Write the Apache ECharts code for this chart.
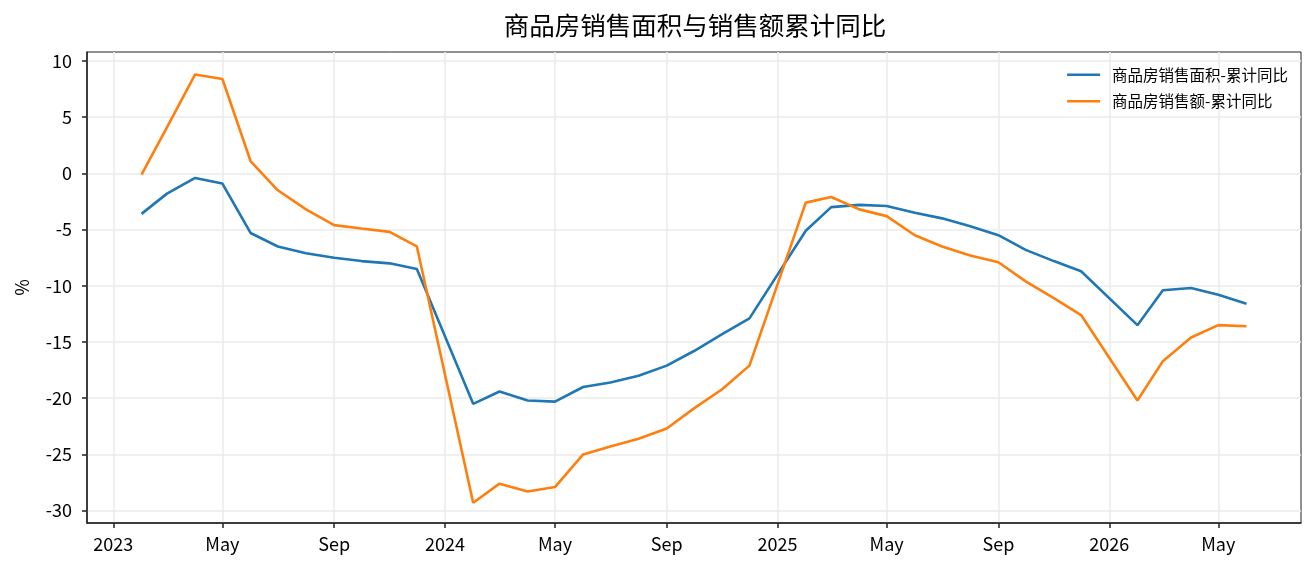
<!DOCTYPE html>
<html>
<head>
<meta charset="utf-8">
<script src="https://cdn.jsdelivr.net/npm/echarts@6/dist/echarts.min.js"></script>
<style>
  html, body { margin: 0; padding: 0; background: #fff; }
  #chart { width: 1316px; height: 573px; }
</style>
</head>
<body>
<div id="chart"></div>
<script>
// monthly points, plotted at the first of each month (no January figures)
const months = [
  '2023-02-01', '2023-03-01', '2023-04-01', '2023-05-01', '2023-06-01', '2023-07-01',
  '2023-08-01', '2023-09-01', '2023-10-01', '2023-11-01', '2023-12-01',
  '2024-02-01', '2024-03-01', '2024-04-01', '2024-05-01', '2024-06-01', '2024-07-01',
  '2024-08-01', '2024-09-01', '2024-10-01', '2024-11-01', '2024-12-01',
  '2025-02-01', '2025-03-01', '2025-04-01', '2025-05-01', '2025-06-01', '2025-07-01',
  '2025-08-01', '2025-09-01', '2025-10-01', '2025-11-01', '2025-12-01',
  '2026-02-01', '2026-03-01', '2026-04-01', '2026-05-01', '2026-06-01'
]
const areaYoY = [
  -3.6, -1.8, -0.4, -0.9, -5.3, -6.5, -7.1, -7.5, -7.8, -8.0, -8.5,
  -20.5, -19.4, -20.2, -20.3, -19.0, -18.6, -18.0, -17.1, -15.8, -14.3, -12.9,
  -5.1, -3.0, -2.8, -2.9, -3.5, -4.0, -4.7, -5.5, -6.8, -7.8, -8.7,
  -13.5, -10.4, -10.2, -10.8, -11.6
]
const amountYoY = [
  -0.1, 4.1, 8.8, 8.4, 1.1, -1.5, -3.2, -4.6, -4.9, -5.2, -6.5,
  -29.3, -27.6, -28.3, -27.9, -25.0, -24.3, -23.6, -22.7, -20.9, -19.2, -17.1,
  -2.6, -2.1, -3.2, -3.8, -5.5, -6.5, -7.3, -7.9, -9.6, -11.1, -12.6,
  -20.2, -16.7, -14.6, -13.5, -13.6
]
const xTicks = [
  '2023-01-01', '2023-05-01', '2023-09-01', '2024-01-01', '2024-05-01', '2024-09-01',
  '2025-01-01', '2025-05-01', '2025-09-01', '2026-01-01', '2026-05-01'
]
const yTicks = [-30, -25, -20, -15, -10, -5, 0, 5, 10]

const FONT = '"Noto Sans CJK SC", "Noto Sans", sans-serif'
const monthNames = ['Jan', 'Feb', 'Mar', 'Apr', 'May', 'Jun', 'Jul', 'Aug', 'Sep', 'Oct', 'Nov', 'Dec']
const toTime = (d) => Date.UTC(+d.slice(0, 4), +d.slice(5, 7) - 1, +d.slice(8, 10))
const tickTimes = xTicks.map(toTime)

const chart = echarts.init(document.getElementById('chart'))

const option = {
  animation: false,
  textStyle: { fontFamily: FONT },
  title: {
    text: '商品房销售面积与销售额累计同比',
    left: 690,
    textAlign: 'center',
    top: 8,
    textStyle: { fontFamily: FONT, fontSize: 25.5, fontWeight: 'normal', color: '#000' },
  },
  legend: {
    orient: 'vertical',
    right: 28,
    top: 67,
    padding: 0,
    icon: 'rect',
    itemWidth: 33,
    itemHeight: 2.5,
    itemGap: 11,
    textStyle: { fontFamily: FONT, fontSize: 15.5, color: '#000', padding: [0, 0, 0, 7] },
  },
  grid: {
    left: 87,
    right: 15,
    top: 52,
    bottom: 50,
    show: true,
    borderColor: '#222',
    borderWidth: 1,
    containLabel: false,
  },
  xAxis: {
    type: 'value',
    min: toTime('2022-12-03'),
    max: toTime('2026-07-31'),
    axisLine: { show: true, onZero: false, lineStyle: { color: '#222', width: 1.5 } },
    axisTick: {
      show: true,
      length: 5,
      customValues: tickTimes,
      lineStyle: { color: '#222', width: 1.5 },
    },
    axisLabel: {
      customValues: tickTimes,
      margin: 12,
      fontSize: 18,
      color: '#000',
      formatter: (v) => {
        const d = new Date(v)
        return d.getUTCMonth() === 0 ? String(d.getUTCFullYear()) : monthNames[d.getUTCMonth()]
      },
    },
    splitLine: { show: true, lineStyle: { color: '#ebebeb', width: 1.5 } },
  },
  yAxis: {
    type: 'value',
    min: -31.1,
    max: 10.8,
    name: '%',
    nameLocation: 'middle',
    nameGap: 56,
    nameTextStyle: { fontFamily: FONT, fontSize: 18, color: '#000' },
    axisLine: { show: true, lineStyle: { color: '#222', width: 1.5 } },
    axisTick: {
      show: true,
      length: 5,
      customValues: yTicks,
      lineStyle: { color: '#222', width: 1.5 },
    },
    axisLabel: {
      customValues: yTicks,
      margin: 15,
      fontSize: 18,
      color: '#000',
    },
    splitLine: { show: true, lineStyle: { color: '#ebebeb', width: 1.5 } },
  },
  series: [
    {
      name: '商品房销售面积-累计同比',
      type: 'line',
      data: months.map((m, i) => [toTime(m), areaYoY[i]]),
      symbol: 'none',
      lineStyle: { color: '#1f77b4', width: 2.6 },
      itemStyle: { color: '#1f77b4' },
    },
    {
      name: '商品房销售额-累计同比',
      type: 'line',
      data: months.map((m, i) => [toTime(m), amountYoY[i]]),
      symbol: 'none',
      lineStyle: { color: '#ff7f0e', width: 2.6 },
      itemStyle: { color: '#ff7f0e' },
    },
  ],
}

chart.setOption(option)
</script>
</body>
</html>
